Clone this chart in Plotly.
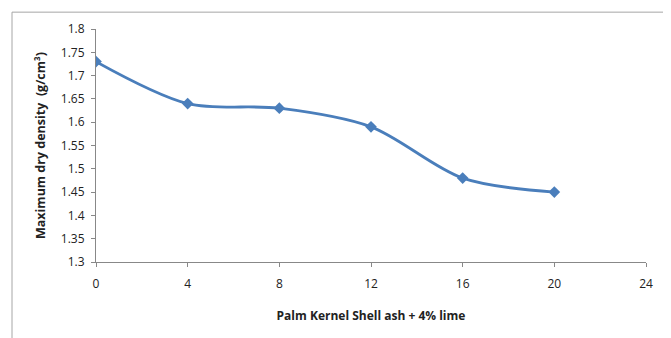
import plotly.graph_objects as go

pks_ash = [0, 4, 8, 12, 16, 20]
max_dry_density = [1.73, 1.64, 1.63, 1.59, 1.48, 1.45]
x_ticks = [0, 4, 8, 12, 16, 20, 24]
y_ticks = [1.3, 1.35, 1.4, 1.45, 1.5, 1.55, 1.6, 1.65, 1.7, 1.75, 1.8]

fig = go.Figure()
fig.add_trace(go.Scatter(
    x=pks_ash, y=max_dry_density, mode="lines+markers",
    line=dict(color="#4A7EBB", width=2.8, shape="spline", smoothing=0.9),
    marker=dict(symbol="diamond", size=9, color="#4A7EBB"),
    showlegend=False,
))

font_family = "Open Sans, Noto Sans, sans-serif"
fig.update_layout(
    width=671, height=338,
    margin=dict(l=88, r=33, t=19, b=84),
    paper_bgcolor="white", plot_bgcolor="white",
    font=dict(family=font_family, size=12, color="#222"),
    xaxis=dict(
        range=[0, 24], tickvals=x_ticks, ticktext=[str(v) for v in x_ticks],
        showgrid=False, zeroline=False, showline=True, linecolor="#888", linewidth=1,
        ticks="outside", ticklen=4, tickcolor="#888", ticklabelstandoff=7,
        title=dict(text="<b>Palm Kernel Shell ash + 4% lime</b>", font=dict(size=12), standoff=20),
    ),
    yaxis=dict(
        range=[1.3, 1.8], tickvals=y_ticks, ticktext=[f"{v:g}" for v in y_ticks],
        showgrid=False, zeroline=False, showline=True, linecolor="#888", linewidth=1,
        ticks="outside", ticklen=4, tickcolor="#888", ticklabelstandoff=4,
        title=dict(text="<b>Maximum dry density  (g/cm³)</b>", font=dict(size=12.5), standoff=12),
    ),
    shapes=[
        dict(type="line", xref="paper", yref="paper", x0=-0.1527, x1=1.0436, y0=1.0723, y1=1.0723,
             line=dict(color="#a6a6a6", width=1)),
        dict(type="line", xref="paper", yref="paper", x0=-0.1527, x1=-0.1527, y0=1.0723, y1=-0.5,
             line=dict(color="#a6a6a6", width=1)),
        dict(type="line", xref="paper", yref="paper", x0=1.0436, x1=1.0436, y0=1.0723, y1=-0.5,
             line=dict(color="#a6a6a6", width=1)),
    ],
)

fig.write_html("out.html")
